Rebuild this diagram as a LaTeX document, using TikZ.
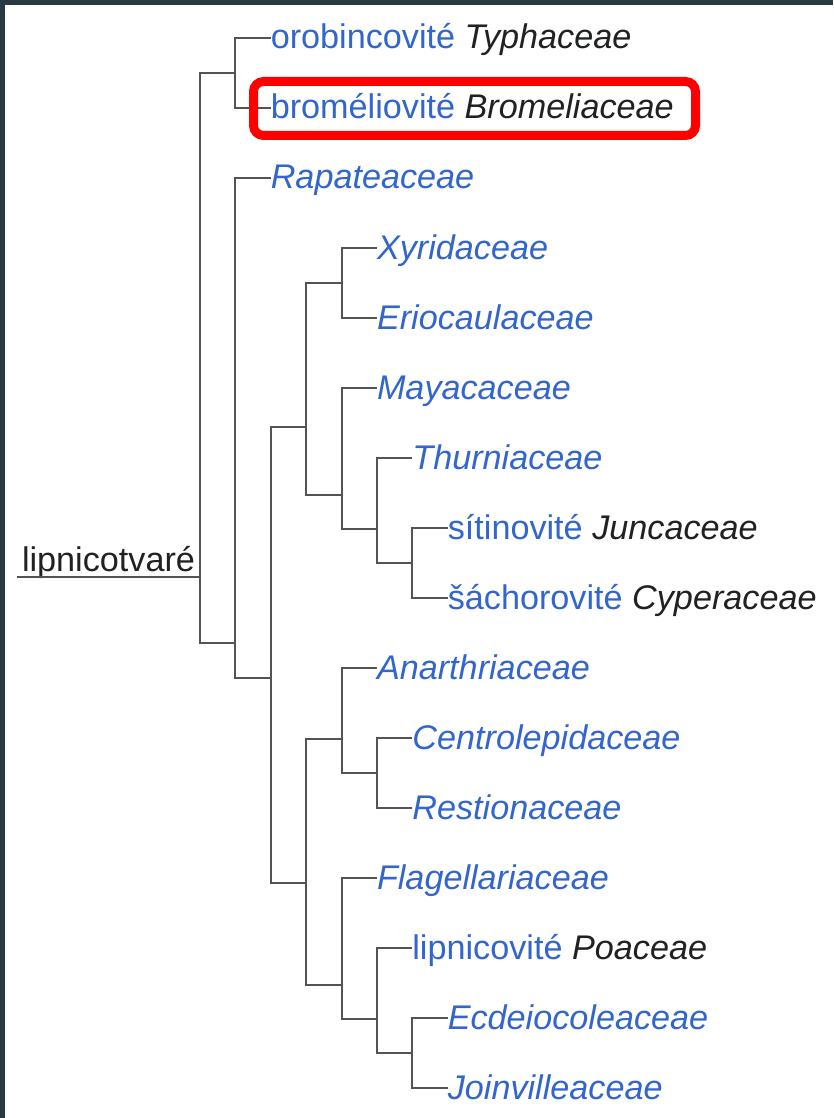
\documentclass[tikz,border=0pt]{standalone}
\usepackage{fontspec}
\setmainfont{Liberation Sans}
\usetikzlibrary{positioning}

\definecolor{odkaz}{HTML}{3366CC}
\definecolor{cerna}{HTML}{202122}
\definecolor{vetevseda}{HTML}{545454}
\definecolor{ramec}{HTML}{2B3A42}

\newcommand{\czjm}[1]{\textcolor{odkaz}{#1}}
\newcommand{\latjm}[1]{\textcolor{cerna}{\itshape #1}}
\newcommand{\latodkaz}[1]{\textcolor{odkaz}{\itshape #1}}

\begin{document}
\begin{tikzpicture}[x=1pt, y=-1pt,
    vetev/.style={draw=vetevseda, line width=2pt},
    taxon/.style={anchor=west, inner sep=0pt, outer sep=0pt,
      text height=25pt, text depth=3pt, font=\fontsize{34.2}{40}\selectfont},
    zvyrazneni/.style={draw=red, line width=9pt, rounded corners=10pt}]

    % 0. plocha a tmavy okraj
    \useasboundingbox (0,0) rectangle (833,1118);
    \fill[white] (0,0) rectangle (833,1118);
    \fill[ramec] (0,0) rectangle (833,5);
    \fill[ramec] (0,0) rectangle (5,1118);

    % 1. uzly vetveni (x = hloubka, y = misto napojeni)
    \coordinate (koren) at (200,577);
    \coordinate (kladA) at (235.4,73);
    \coordinate (kladB) at (235.4,643);
    \coordinate (kladK) at (270.8,678);
    \coordinate (kladD) at (306.2,427);
    \coordinate (kladC) at (341.6,283);
    \coordinate (kladE) at (341.6,495);
    \coordinate (kladF) at (377,529);
    \coordinate (kladG) at (412.4,563);
    \coordinate (kladJ) at (306.2,883);
    \coordinate (kladH) at (341.6,739);
    \coordinate (kladI) at (377,773);
    \coordinate (kladL) at (341.6,985);
    \coordinate (kladM) at (377,1019);
    \coordinate (kladN) at (412.4,1053);

    % 2. koren
    \coordinate (zacatek) at (17,577);
    \node[taxon, anchor=base west, text height=, text depth=] (lipnicotvare) at (22,571) {\textcolor{cerna}{lipnicotvaré}};

    % 3. listy
    \node[taxon] (typha) at (270.8,38) {\czjm{orobincovité} \latjm{Typhaceae}};
    \node[taxon] (bromelie) at (270.8,108) {\czjm{broméliovité} \latjm{Bromeliaceae}};
    \node[taxon] (rapatea) at (270.8,178) {\latodkaz{Rapateaceae}};
    \node[taxon] (xyris) at (377,248) {\latodkaz{Xyridaceae}};
    \node[taxon] (eriocaulon) at (377,318) {\latodkaz{Eriocaulaceae}};
    \node[taxon] (mayaca) at (377,388) {\latodkaz{Mayacaceae}};
    \node[taxon] (thurnia) at (412.4,458) {\latodkaz{Thurniaceae}};
    \node[taxon] (sitina) at (447.8,528) {\czjm{sítinovité} \latjm{Juncaceae}};
    \node[taxon] (sachor) at (447.8,598) {\czjm{šáchorovité} \latjm{Cyperaceae}};
    \node[taxon] (anarthria) at (377,668) {\latodkaz{Anarthriaceae}};
    \node[taxon] (centrolepis) at (412.4,738) {\latodkaz{Centrolepidaceae}};
    \node[taxon] (restio) at (412.4,808) {\latodkaz{Restionaceae}};
    \node[taxon] (flagellaria) at (377,878) {\latodkaz{Flagellariaceae}};
    \node[taxon] (lipnice) at (412.4,948) {\czjm{lipnicovité} \latjm{Poaceae}};
    \node[taxon] (ecdeiocolea) at (447.8,1018) {\latodkaz{Ecdeiocoleaceae}};
    \node[taxon] (joinvillea) at (447.8,1088) {\latodkaz{Joinvilleaceae}};

    % 4. vetve
    \draw[vetev] (zacatek) -- (koren);
    \draw[vetev] (koren) |- (kladA);
    \draw[vetev] (koren) |- (kladB);
    \draw[vetev] (kladA) |- (typha);
    \draw[vetev] (kladA) |- (bromelie);
    \draw[vetev] (kladB) |- (rapatea);
    \draw[vetev] (kladB) |- (kladK);
    \draw[vetev] (kladK) |- (kladD);
    \draw[vetev] (kladK) |- (kladJ);
    \draw[vetev] (kladD) |- (kladC);
    \draw[vetev] (kladD) |- (kladE);
    \draw[vetev] (kladC) |- (xyris);
    \draw[vetev] (kladC) |- (eriocaulon);
    \draw[vetev] (kladE) |- (mayaca);
    \draw[vetev] (kladE) |- (kladF);
    \draw[vetev] (kladF) |- (thurnia);
    \draw[vetev] (kladF) |- (kladG);
    \draw[vetev] (kladG) |- (sitina);
    \draw[vetev] (kladG) |- (sachor);
    \draw[vetev] (kladJ) |- (kladH);
    \draw[vetev] (kladJ) |- (kladL);
    \draw[vetev] (kladH) |- (anarthria);
    \draw[vetev] (kladH) |- (kladI);
    \draw[vetev] (kladI) |- (centrolepis);
    \draw[vetev] (kladI) |- (restio);
    \draw[vetev] (kladL) |- (flagellaria);
    \draw[vetev] (kladL) |- (kladM);
    \draw[vetev] (kladM) |- (lipnice);
    \draw[vetev] (kladM) |- (kladN);
    \draw[vetev] (kladN) |- (ecdeiocolea);
    \draw[vetev] (kladN) |- (joinvillea);

    % 5. cerveny ramecek
    \draw[zvyrazneni] (253.5,81.5) rectangle (695.5,135.5);

\end{tikzpicture}
\end{document}
